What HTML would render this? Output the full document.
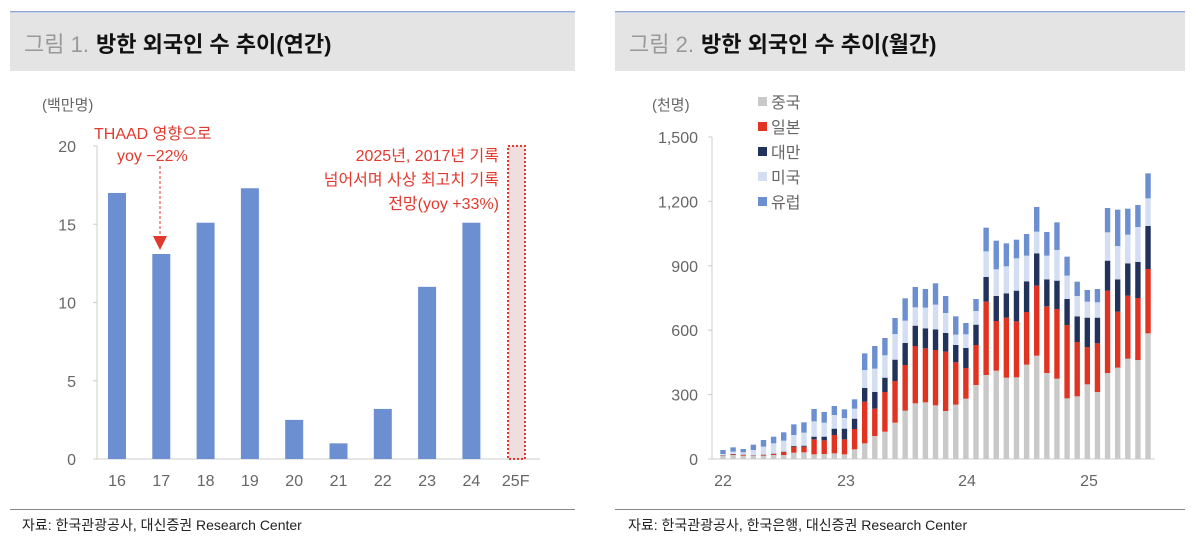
<!DOCTYPE html>
<html><head><meta charset="utf-8"><style>
body{margin:0;background:#fff;width:1199px;height:549px;overflow:hidden}
svg{display:block;font-family:"Liberation Sans","Noto Sans CJK KR",sans-serif}
</style></head><body>
<svg id="s" width="1199" height="549" xmlns="http://www.w3.org/2000/svg">
<rect x="10" y="11" width="565" height="1.5" fill="#8fa6d6"/>
<rect x="10" y="13" width="565" height="58" fill="#e4e4e4"/>
<text x="24" y="52" font-size="22" fill="#999">그림 1.</text>
<text x="96" y="52" font-size="22" font-weight="bold" fill="#111">방한 외국인 수 추이(연간)</text>
<rect x="615" y="11" width="570" height="1.5" fill="#8fa6d6"/>
<rect x="615" y="13" width="570" height="58" fill="#e4e4e4"/>
<text x="629" y="52" font-size="22" fill="#999">그림 2.</text>
<text x="701" y="52" font-size="22" font-weight="bold" fill="#111">방한 외국인 수 추이(월간)</text>
<rect x="10" y="509" width="565" height="1" fill="#888"/>
<rect x="615" y="509" width="570" height="1" fill="#888"/>
<text x="22" y="530" font-size="14" fill="#222">자료: 한국관광공사, 대신증권 Research Center</text>
<text x="628" y="530" font-size="14" fill="#222">자료: 한국관광공사, 한국은행, 대신증권 Research Center</text>
<text x="42" y="110" font-size="15" fill="#666">(백만명)</text>
<text x="652" y="110" font-size="15" fill="#666">(천명)</text>
<g id="L"></g><g id="R"></g>
<text x="94" y="139" font-size="16" fill="#e03a2e">THAAD 영향으로</text>
<text x="117" y="161" font-size="16" fill="#e03a2e">yoy −22%</text>
<line x1="160" y1="166" x2="160" y2="238" stroke="#e03a2e" stroke-dasharray="3,2"/>
<polygon points="153,236 167,236 160,250" fill="#e03a2e"/>
<text x="499" y="161" font-size="16" fill="#e03a2e" text-anchor="end">2025년, 2017년 기록</text>
<text x="499" y="185" font-size="16" fill="#e03a2e" text-anchor="end">넘어서며 사상 최고치 기록</text>
<text x="499" y="209" font-size="16" fill="#e03a2e" text-anchor="end">전망(yoy +33%)</text>
<rect x="508" y="146" width="17" height="313" fill="#f0dede" stroke="#e03a2e" stroke-width="2" stroke-dasharray="2,2"/>
</svg>
<script>
var NS="http://www.w3.org/2000/svg";
function el(p,t,a,txt){var e=document.createElementNS(NS,t);for(var k in a)e.setAttribute(k,a[k]);if(txt!=null)e.textContent=txt;p.appendChild(e);return e;}
var L=document.getElementById('L'),R=document.getElementById('R');
el(L,'line',{x1:97,y1:146,x2:97,y2:459,stroke:'#ccc'});
el(L,'line',{x1:97,y1:459,x2:540,y2:459,stroke:'#ccc'});
[0,5,10,15,20].forEach(function(v){var y=459-v*15.65;el(L,'text',{x:76,y:y+6,'font-size':16,fill:'#666','text-anchor':'end'},v);el(L,'line',{x1:93,y1:y,x2:97,y2:y,stroke:'#ccc'});});
var lv=[17.0,13.1,15.1,17.3,2.5,1.0,3.2,11.0,15.1],lb=['16','17','18','19','20','21','22','23','24','25F'];
lb.forEach(function(l,i){var c=117+i*44.3;if(i<9)el(L,'rect',{x:c-9,y:459-lv[i]*15.65,width:18,height:lv[i]*15.65,fill:'#6b8fd1'});el(L,'text',{x:c,y:486,'font-size':16,fill:'#666','text-anchor':'middle'},l);});
el(R,'line',{x1:712,y1:137,x2:712,y2:459,stroke:'#ccc'});
el(R,'line',{x1:712,y1:459,x2:1155,y2:459,stroke:'#ccc'});
[0,300,600,900,1200,1500].forEach(function(v){var y=459-v*0.2147;el(R,'text',{x:698,y:y+6,'font-size':16,fill:'#666','text-anchor':'end'},v.toLocaleString('en-US'));el(R,'line',{x1:708,y1:y,x2:712,y2:y,stroke:'#ccc'});});
[['22',723],['23',846],['24',967],['25',1089]].forEach(function(a){el(R,'text',{x:a[1],y:486,'font-size':16,fill:'#666','text-anchor':'middle'},a[0]);});
var D=[[798,797,796,792,780],[795,793,792,785,772],[797,795,794,787,777],[798,797,796,780,764],[797,795,794,770,750],[795,792,791,760,740],[795,786,785,752,727],[788,770,768,735,703],[787,770,767,728,697],[793,748,740,694,657],[792,751,740,698,666],[790,735,716,675,648],[793,748,716,684,658],[778,717,686,656,628],[760,635,594,540,490],[738,656,606,536,468],[725,606,563,496,444],[698,573,509,432,384],[662,525,459,392,325],[640,468,407,352,291],[637,475,415,353,297],[646,480,418,344,280],[663,485,429,369,318],[644,517,465,434,379],[626,534,474,433,399],[585,465,404,363,327],[555,335,261,184,113],[542,393,318,238,152],[563,383,310,229,160],[562,394,302,205,149],[524,366,274,197,132],[497,287,190,125,51],[549,349,268,197,126],[566,357,272,180,97],[625,405,327,257,200],[619,456,379,318,275],[583,471,383,335,300],[606,460,383,337,297],[549,302,212,127,54],[533,365,268,168,59],[506,317,220,134,56],[510,324,216,111,45],[430,237,108,25,-50]];
var C=['#c9c9c9','#e03322','#22335b','#d3def2','#6b8fd1'];
D.forEach(function(d,i){var x=723+i*10.12-2.7,prev=459;for(var k=0;k<5;k++){var y=190+d[k]/3;el(R,'rect',{x:x,y:y,width:5.4,height:Math.max(0,prev-y),fill:C[k]});prev=y;}});
var names=['중국','일본','대만','미국','유럽'];
names.forEach(function(n,i){var y=102+i*25;el(R,'rect',{x:758,y:y-5,width:9,height:9,fill:C[i]});el(R,'text',{x:771,y:y+6,'font-size':16,fill:'#666'},n);});
</script>
</body></html>
